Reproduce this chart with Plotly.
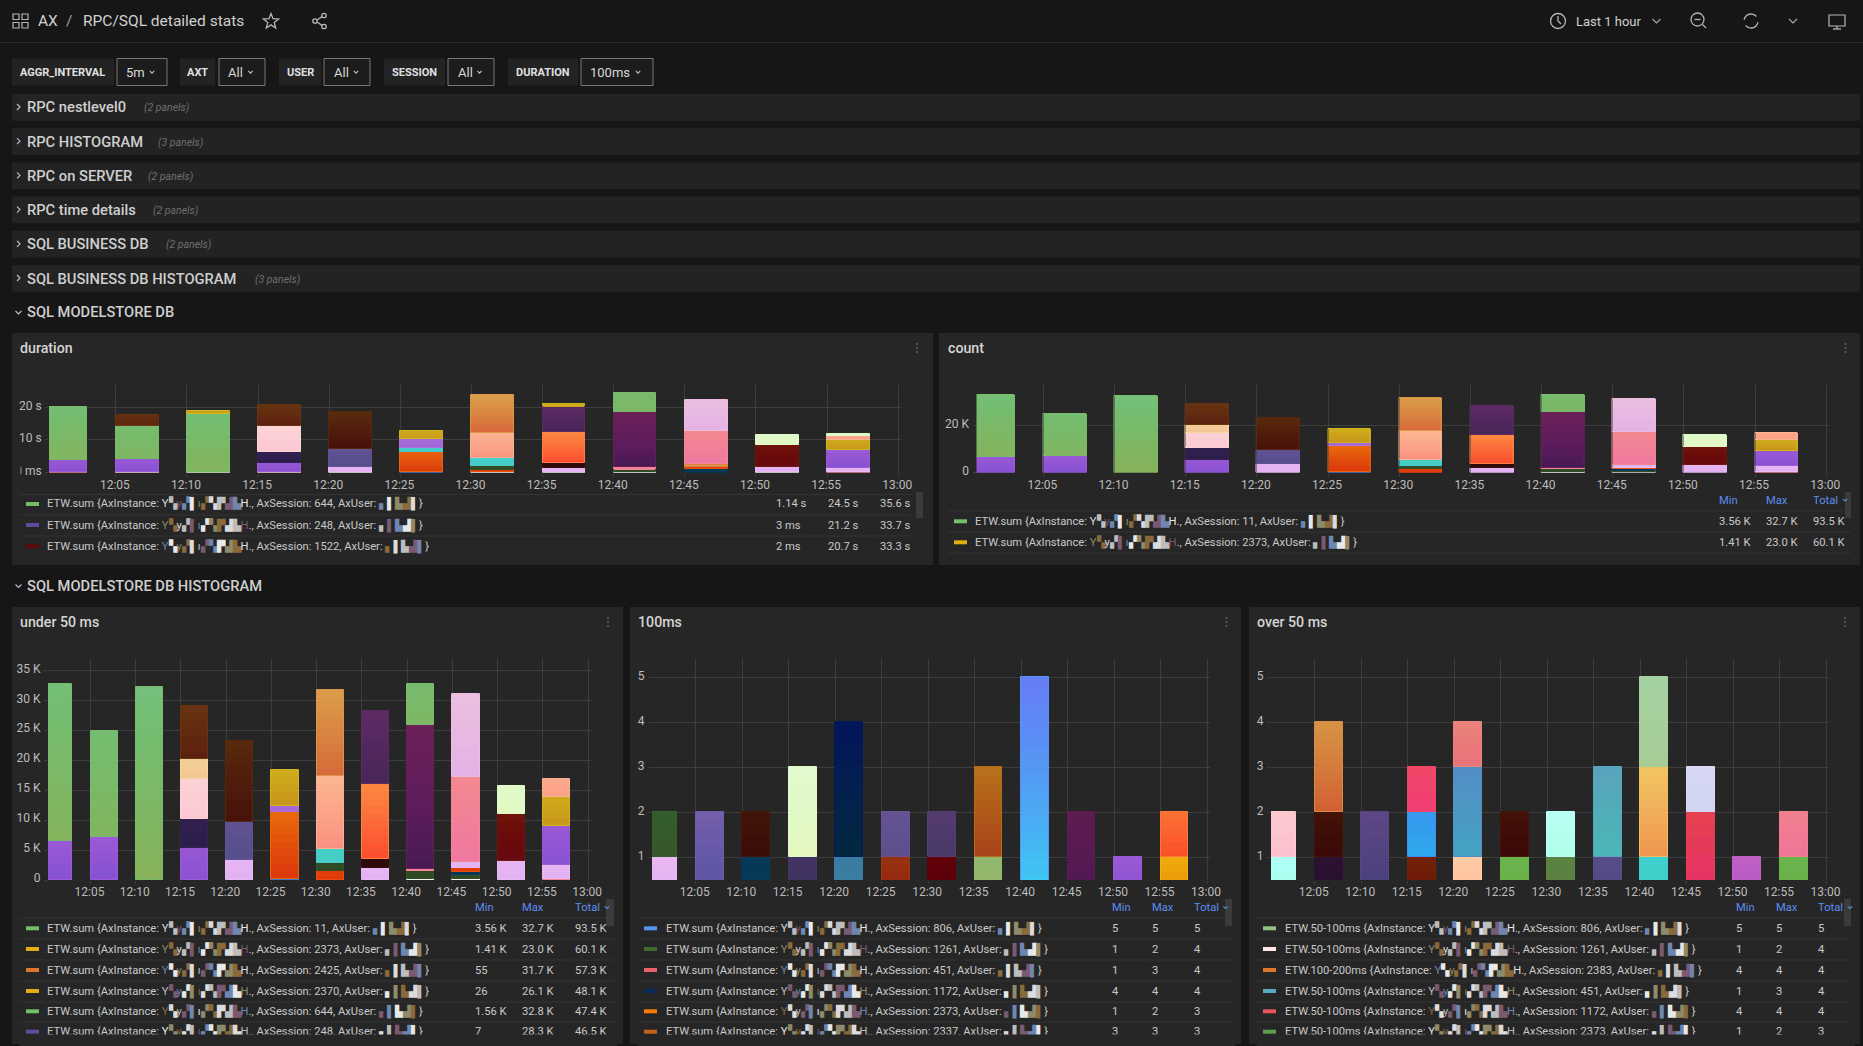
import colorsys
import math

import plotly.graph_objects as go

WIDTH = 1863
HEIGHT = 1046
FONT = "Roboto"
BG = "#161616"
PANEL = "#262626"
ROW = "#232323"
GRID = "#3d3d3d"
TEXT = "#c9c9c9"
BLUE_HEAD = "#5c8df0"

# series colours, middle of each gradient
GREEN = "#7ab968"
PURPLE = "#9055d4"
PURPLE2 = "#a468d8"
BROWN = "#622a10"
DK_BROWN = "#501d0c"
PEACH = "#f4cb96"
ROSE = "#fccdd4"
NAVY_P = "#2e1f4d"
LILAC = "#e4b3f2"
SLATE = "#5a5090"
BLUE = "#3f7fc8"
RUST = "#e24f0c"
GOLD = "#cba01b"
SALMON = "#fba489"
ORANGE = "#d98442"
TEAL = "#45cec7"
DK_GREEN = "#2f4a25"
REDOR = "#e23b0a"
MAROON = "#2f0a0c"
BRIGHT = "#fc6b38"
PLUM = "#52285f"
MAGENTA = "#5f1d5c"
PINK = "#f28098"
PALE_LILAC = "#e8b8e2"
DK_RED = "#6c0a0a"
PALE_GREEN = "#e1f9c6"
WHITE = "#f2eef4"
DK_TEAL = "#063a55"
SKY = "#3a7f9f"

buckets = [f"2024-05-14 12:{m:02d}" for m in (0, 5, 10, 15, 20, 25, 30, 35, 40, 45, 50, 55)]
tick_times = buckets[1:] + ["2024-05-14 13:00"]
tick_labels = ["12:05", "12:10", "12:15", "12:20", "12:25", "12:30", "12:35", "12:40", "12:45", "12:50", "12:55", "13:00"]

# each inner list is one 5 minute stack, bottom to top
duration_values = [
    [0.3, 3.5, 16.2],
    [0.3, 4.0, 10.0, 3.5],
    [0.3, 17.7, 0.8],
    [0.3, 2.5, 3.5, 8.0, 6.3],
    [0.3, 1.3, 5.6, 11.3],
    [0.3, 5.9, 1.3, 2.7, 2.5],
    [0.3, 0.6, 0.95, 2.55, 7.7, 11.6],
    [0.3, 1.0, 1.5, 9.6, 8.0, 0.6],
    [0.3, 0.7, 0.6, 17.0, 5.8],
    [0.3, 0.7, 0.95, 0.6, 10.3, 9.4],
    [0.3, 1.3, 7.0, 2.9],
    [0.3, 1.0, 5.6, 2.95, 1.5, 0.4],
]
duration_colors = [
    [PINK, PURPLE, GREEN],
    [ROSE, PURPLE, GREEN, BROWN],
    [PALE_GREEN, GREEN, GOLD],
    [ROSE, PURPLE, NAVY_P, ROSE, BROWN],
    [WHITE, LILAC, SLATE, DK_BROWN],
    [BLUE, RUST, TEAL, PURPLE2, GOLD],
    [WHITE, REDOR, DK_GREEN, TEAL, SALMON, ORANGE],
    [WHITE, LILAC, MAROON, BRIGHT, PLUM, GOLD],
    [WHITE, DK_GREEN, PINK, MAGENTA, GREEN],
    [DK_TEAL, DK_TEAL, REDOR, ORANGE, PINK, PALE_LILAC],
    [WHITE, LILAC, DK_RED, PALE_GREEN],
    [PINK, LILAC, PURPLE, GOLD, SALMON, PALE_GREEN],
]

under_50_values = [
    [6500, 26200],
    [7100, 17700],
    [32300],
    [5300, 4900, 6700, 3300, 8900],
    [3400, 6300, 13500],
    [200, 11100, 1000, 6100],
    [1500, 1300, 2400, 12200, 14300],
    [2000, 1500, 12600, 12200],
    [200, 1300, 400, 23900, 7000],
    [200, 800, 300, 700, 1000, 14200, 13800],
    [3200, 7800, 4700],
    [200, 2350, 6550, 4700, 3000],
]
under_50_colors = [
    [PURPLE, GREEN],
    [PURPLE, GREEN],
    [GREEN],
    [PURPLE, NAVY_P, ROSE, PEACH, BROWN],
    [LILAC, SLATE, DK_BROWN],
    [BLUE, RUST, PURPLE2, GOLD],
    [REDOR, DK_GREEN, TEAL, SALMON, ORANGE],
    [LILAC, MAROON, BRIGHT, PLUM],
    [WHITE, DK_GREEN, PINK, MAGENTA, GREEN],
    [WHITE, DK_GREEN, DK_TEAL, REDOR, LILAC, PINK, PALE_LILAC],
    [LILAC, DK_RED, PALE_GREEN],
    [PINK, LILAC, PURPLE, GOLD, SALMON],
]

count_values = under_50_values
count_colors = under_50_colors

ms_100_values = [
    [1, 1], [2], [1, 1], [1, 2], [1, 3], [1, 1],
    [1, 1], [1, 2], [5], [2], [1], [1, 1],
]
ms_100_colors = [
    [LILAC, "#365a2a"], ["#6458a8"], [DK_TEAL, "#3f1009"], ["#3f3260", PALE_GREEN],
    [SKY, "#03204e"], ["#94280f", "#60518f"], ["#5c000c", "#4e3a6c"], ["#94b76c", "#b0591a"],
    ["#50a0f4"], ["#561a52"], [PURPLE], ["#ea9a0c", "#fb6030"],
]

over_50_values = [
    [1, 1], [1, 1, 2], [2], [1, 1, 1], [1, 2, 1], [1, 1],
    [1, 1], [1, 2], [1, 2, 2], [2, 1], [1], [1, 1],
]
over_50_colors = [
    ["#a9fff0", "#fcc4cf"], ["#28102e", "#3f0d08", "#d47a3c"], ["#51437f"],
    ["#6e1a08", "#33a0ee", "#f0426e"], ["#fcc3a0", "#4b98c4", "#e97878"], ["#6cb04a", "#3f0d08"],
    ["#5c8040", "#b4ffee"], ["#524a85", "#52adba"], ["#3dcfc6", "#f0ae58", "#a6cf9c"],
    ["#e6385e", "#d4d6f2"], ["#b85cc4"], ["#6cb04a", "#f07a94"],
]

# name, session, min, max, total of the visible legend rows
duration_legend = [
    ("ETW.sum", "644", "1.14 s", "24.5 s", "35.6 s"),
    ("ETW.sum", "248", "3 ms", "21.2 s", "33.7 s"),
    ("ETW.sum", "1522", "2 ms", "20.7 s", "33.3 s"),
]
duration_swatches = ["#73bf69", "#5f4b9b", "#5c0a0a"]
count_legend = [
    ("ETW.sum", "11", "3.56 K", "32.7 K", "93.5 K"),
    ("ETW.sum", "2373", "1.41 K", "23.0 K", "60.1 K"),
]
count_swatches = ["#73bf69", "#e0ae12"]
under_50_legend = [
    ("ETW.sum", "11", "3.56 K", "32.7 K", "93.5 K"),
    ("ETW.sum", "2373", "1.41 K", "23.0 K", "60.1 K"),
    ("ETW.sum", "2425", "55", "31.7 K", "57.3 K"),
    ("ETW.sum", "2370", "26", "26.1 K", "48.1 K"),
    ("ETW.sum", "644", "1.56 K", "32.8 K", "47.4 K"),
    ("ETW.sum", "248", "7", "28.3 K", "46.5 K"),
]
under_50_swatches = ["#73bf69", "#e0ae12", "#e0752d", "#e0ae12", "#73bf69", "#5f4b9b"]
ms_100_legend = [
    ("ETW.sum", "806", "5", "5", "5"),
    ("ETW.sum", "1261", "1", "2", "4"),
    ("ETW.sum", "451", "1", "3", "4"),
    ("ETW.sum", "1172", "4", "4", "4"),
    ("ETW.sum", "2373", "1", "2", "3"),
    ("ETW.sum", "2337", "3", "3", "3"),
]
ms_100_swatches = ["#5794f2", "#3f6b34", "#e8636c", "#0a2a5a", "#ff780a", "#c4601d"]
over_50_legend = [
    ("ETW.50-100ms", "806", "5", "5", "5"),
    ("ETW.50-100ms", "1261", "1", "2", "4"),
    ("ETW.100-200ms", "2383", "4", "4", "4"),
    ("ETW.50-100ms", "451", "1", "3", "4"),
    ("ETW.50-100ms", "1172", "4", "4", "4"),
    ("ETW.50-100ms", "2373", "1", "2", "3"),
]
over_50_swatches = ["#96c183", "#ffe5e5", "#e0752d", "#5aa9c2", "#e8535e", "#5c9e4e"]

row_titles = ["RPC nestlevel0", "RPC HISTOGRAM", "RPC on SERVER", "RPC time details", "SQL BUSINESS DB", "SQL BUSINESS DB HISTOGRAM"]
row_panels = ["(2 panels)", "(3 panels)", "(2 panels)", "(2 panels)", "(2 panels)", "(3 panels)"]
row_hint_x = [143, 157, 147, 152, 165, 254]

NOISE_A = "Y▚y▞▌ı▞▚▛▟▙H"
NOISE_B = "▖▌▙▟▌"
NOISE_COLORS = ["#dcdcdc", "#8f8a6a", "#6f86b0", "#bdbdbd", "#8a6a3a", "#e8e8e8", "#7a5a70"]

shapes = []
annotations = []
fig = go.Figure()


def px(x):
    return x / WIDTH


def py(y):
    return 1 - y / HEIGHT


def rect(x0, y0, x1, y1, fill, line=None):
    shapes.append(dict(
        type="rect", xref="paper", yref="paper", layer="below",
        x0=px(x0), x1=px(x1), y0=py(y0), y1=py(y1), fillcolor=fill,
        line=dict(color=line or "rgba(0,0,0,0)", width=1 if line else 0),
    ))


def poly(points, color="#b5b5b5", width=1.3, closed=False):
    path = "M " + " L ".join(f"{px(x):.5f},{py(y):.5f}" for x, y in points)
    shapes.append(dict(
        type="path", xref="paper", yref="paper", path=path + (" Z" if closed else ""),
        line=dict(color=color, width=width),
    ))


def circle(cx, cy, r, color="#b5b5b5", width=1.3):
    shapes.append(dict(
        type="circle", xref="paper", yref="paper",
        x0=px(cx - r), x1=px(cx + r), y0=py(cy - r), y1=py(cy + r),
        line=dict(color=color, width=width),
    ))


def arc(cx, cy, r, a0, a1):
    return [(cx + r * math.cos(math.radians(a0 + (a1 - a0) * k / 12)),
             cy + r * math.sin(math.radians(a0 + (a1 - a0) * k / 12))) for k in range(13)]


def chevron_down(x, y, s=3, color="#c0c0c0"):
    poly([(x - s, y - s / 2), (x, y + s / 2), (x + s, y - s / 2)], color, 1.1)


def chevron_right(x, y, s=3, color="#c0c0c0"):
    poly([(x - s / 2, y - s), (x + s / 2, y), (x - s / 2, y + s)], color, 1.1)


def label(x, y, text, size=12, color=TEXT, anchor="left", family=FONT):
    annotations.append(dict(
        xref="paper", yref="paper", x=px(x), y=py(y), text=text, showarrow=False,
        xanchor=anchor, yanchor="middle", borderpad=0,
        font=dict(family=family, size=size, color=color),
    ))


def medium(text):
    return f"<span style='font-weight:500'>{text}</span>"


def noise(chars, start):
    # stands in for the pixelated names of the reference
    parts = [f"<span style='color:{NOISE_COLORS[(start + 3 * k) % len(NOISE_COLORS)]}'>{c}</span>"
             for k, c in enumerate(chars)]
    return "".join(parts)


def shade(color, t):
    r, g, b = (int(color[i:i + 2], 16) / 255 for i in (1, 3, 5))
    h, l, s = colorsys.rgb_to_hls(r, g, b)
    h = (h + t * 0.06) % 1
    l = min(1, max(0, l + t * 0.05))
    r, g, b = colorsys.hls_to_rgb(h, l, s)
    return f"rgb({r * 255:.0f},{g * 255:.0f},{b * 255:.0f})"


def add_stacks(values, colors, axis_no, span):
    # plotly bars have no gradient fill, so each segment is cut in thin flat steps
    xs, hs, bases, fills = [], [], [], []
    out_x, out_h, out_b, out_c = [], [], [], []
    for time, stack, stack_colors in zip(buckets, values, colors):
        base = 0
        for value, color in zip(stack, stack_colors):
            frac = value / span
            steps = max(1, math.ceil(frac * 28))
            for k in range(steps):
                xs.append(time)
                hs.append(value / steps)
                bases.append(base + value * k / steps)
                fills.append(shade(color, (2 * (k + 0.5) / steps - 1) * frac))
            out_x.append(time)
            out_h.append(value)
            out_b.append(base)
            out_c.append(shade(color, 0.25))
            base += value
    suffix = "" if axis_no == 1 else str(axis_no)
    fig.add_trace(go.Bar(
        x=xs, y=hs, base=bases, offset=0, width=180000, xaxis=f"x{suffix}", yaxis=f"y{suffix}",
        marker=dict(color=fills, line=dict(width=0)), hoverinfo="skip", showlegend=False,
    ))
    fig.add_trace(go.Bar(
        x=out_x, y=out_h, base=out_b, offset=0, width=180000, xaxis=f"x{suffix}", yaxis=f"y{suffix}",
        marker=dict(color="rgba(0,0,0,0)", line=dict(color=out_c, width=1)), showlegend=False,
    ))


def add_axes(axis_no, x0, x1, top, bottom, y_range, y_ticks, y_labels):
    suffix = "" if axis_no == 1 else str(axis_no)
    font = dict(family=FONT, size=12, color="#bcbcbc")
    fig.update_layout({
        f"xaxis{suffix}": dict(
            type="date", domain=[px(x0), px(x1)], anchor=f"y{suffix}", automargin=False,
            range=["2024-05-14 12:00:18", "2024-05-14 13:00:16"],
            tickvals=tick_times, ticktext=tick_labels, tickfont=font, showgrid=True,
            gridcolor=GRID, gridwidth=1, zeroline=False, showline=False,
            ticks="outside", ticklen=3, tickcolor=GRID, ticklabelstandoff=-2, ticklabelshift=-1,
        ),
        f"yaxis{suffix}": dict(
            domain=[py(bottom), py(top)], anchor=f"x{suffix}", range=y_range, automargin=False,
            tickvals=y_ticks, ticktext=y_labels, tickfont=font, showgrid=True,
            gridcolor=GRID, gridwidth=1, zeroline=False, showline=False,
            ticks="outside", ticklen=3, tickcolor=GRID, ticklabelstandoff=1, ticklabelshift=-2,
        ),
    })


def panel_frame(x0, y0, x1, y1, title, title_x, dots_x):
    rect(x0, y0, x1, y1, PANEL)
    label(title_x, y0 + 15, medium(title), 14.2, "#d5d5d5")
    for k in (-4, 0, 4):
        rect(dots_x - 0.8, y0 + 15 + k - 0.8, dots_x + 0.8, y0 + 15 + k + 0.8, "#6d6d6d")


def legend_rows(rows, swatches, rows_y, sep_y, sw_x, text_x, cols, sep_x0, sep_x1):
    for y in sep_y:
        rect(sep_x0, y, sep_x1, y + 1, "#333333")
    for n, ((name, session, low, high, total), color, y) in enumerate(zip(rows, swatches, rows_y)):
        rect(sw_x, y - 2, sw_x + 13, y + 2, color)
        text = f"{name} {{AxInstance: {noise(NOISE_A, n)}., AxSession: {session}, AxUser: {noise(NOISE_B, n + 2)}}}"
        label(text_x, y, text, 11.2)
        for col, value in zip(cols, (low, high, total)):
            label(col, y, value, 11.2)


def legend_head(cols, y):
    for col, text in zip(cols, ("Min", "Max", "Total")):
        label(col, y, text, 11.2, BLUE_HEAD)
    chevron_down(cols[2] + 33, y, 2.2, BLUE_HEAD)


def cover(x0, x1, y0, y1):
    # hides text cut by a box edge in the reference
    annotations.append(dict(
        xref="paper", yref="paper", x=px(x0), y=py(y0), xanchor="left", yanchor="top",
        width=x1 - x0, height=y1 - y0, text="\u00a0", showarrow=False, bgcolor=PANEL, borderpad=0,
        font=dict(size=6),
    ))


# page header
rect(0, 42, WIDTH, 43, "#2a2a2a")
for gx in (13, 22):
    for gy in (14, 22.5):
        shapes.append(dict(type="rect", xref="paper", yref="paper", x0=px(gx), x1=px(gx + 6), y0=py(gy), y1=py(gy + 5.5),
                           line=dict(color="#b5b5b5", width=1.2)))
label(37, 21, "AX", 15.5, "#d0d0d0")
label(65, 21, "/", 15.5, "#a0a0a0")
label(82, 21, "RPC/SQL detailed stats", 15.5, "#d0d0d0")
poly([(271 + (8 if k % 2 == 0 else 3.4) * math.sin(k * math.pi / 5),
       21.5 - (8 if k % 2 == 0 else 3.4) * math.cos(k * math.pi / 5)) for k in range(10)], closed=True)
circle(324, 15.5, 2.2)
circle(315, 21, 2.2)
circle(324, 26.5, 2.2)
poly([(322, 16.6), (317, 20)])
poly([(317, 22), (322, 25.4)])
circle(1558, 21, 7.5)
poly([(1558, 16), (1558, 21), (1561, 24)])
label(1575, 21, "Last 1 hour", 13, "#d0d0d0")
chevron_down(1656.5, 21, 4, "#a8a8a8")
circle(1697.5, 19.5, 6.5)
poly([(1694.5, 19.5), (1700.5, 19.5)])
poly([(1702.5, 24.5), (1706, 28)])
poly(arc(1751, 21, 7, 190, 320))
poly(arc(1751, 21, 7, 10, 140))
chevron_down(1793, 21, 4, "#a8a8a8")
shapes.append(dict(type="rect", xref="paper", yref="paper", x0=px(1829), x1=px(1845), y0=py(15), y1=py(26),
                   line=dict(color="#b5b5b5", width=1.2)))
poly([(1837, 26), (1837, 29)])
poly([(1833, 29), (1841, 29)])

# variable bar
toolbar = [
    ("AGGR_INTERVAL", 12, 114, "5m", 117, 167, 125, 152),
    ("AXT", 180, 215, "All", 219, 265, 227, 250.5),
    ("USER", 279, 321, "All", 324, 370, 333, 356),
    ("SESSION", 384, 445, "All", 448, 494, 457, 479.5),
    ("DURATION", 508, 578, "100ms", 581, 653, 589, 638),
]
for name, x0, x1, value, bx0, bx1, tx, cx in toolbar:
    rect(x0, 58.5, x1, 85.5, "#232323")
    label((x0 + x1) / 2, 72, f"<b>{name}</b>", 11, "#e0e0e0", "center")
    rect(bx0, 58.5, bx1, 85.5, "#1c1c1c", "#777777")
    label(tx, 72, value, 13, "#d8d8d8")
    chevron_down(cx, 72, 2.2)

# collapsed rows
for k, (title, hint, hint_x) in enumerate(zip(row_titles, row_panels, row_hint_x)):
    top = 94 + 34.2 * k
    rect(12, top, 1860, top + 26.7, ROW)
    chevron_right(18.5, top + 13)
    label(26, top + 13.5, medium(title), 14.7, "#cfcfcf")
    label(hint_x, top + 14, f"<i>{hint}</i>", 10.5, "#6f6f6f")
chevron_down(18.5, 312.5)
label(26, 312, medium("SQL MODELSTORE DB"), 14.7, "#cfcfcf")
chevron_down(18.5, 586)
label(26, 585.5, medium("SQL MODELSTORE DB HISTOGRAM"), 14.7, "#cfcfcf")

# panels
panel_frame(12, 333, 933, 565, "duration", 19, 917)
panel_frame(939, 333, 1860, 565, "count", 947, 1845.5)
panel_frame(12, 607, 623, 1044, "under 50 ms", 19, 608)
panel_frame(630, 607, 1241, 1044, "100ms", 637, 1226.5)
panel_frame(1249, 607, 1860, 1044, "over 50 ms", 1256, 1845)

add_stacks(duration_values, duration_colors, 1, 26.9)
add_axes(1, 49, 902, 385, 472.5, [0, 26.9], [0, 10, 20], ["0 ms", "10 s", "20 s"])
cover(12, 18.5, 463, 478)
add_stacks(count_values, count_colors, 2, 37100)
add_axes(2, 976.5, 1830, 385, 472.5, [0, 37100], [0, 20000], ["0", "20 K"])
add_stacks(under_50_values, under_50_colors, 3, 36900)
add_axes(3, 48, 590.5, 659, 880, [0, 36900], [0, 5000, 10000, 15000, 20000, 25000, 30000, 35000],
         ["0", "5 K", "10 K", "15 K", "20 K", "25 K", "30 K", "35 K"])
add_stacks(ms_100_values, ms_100_colors, 4, 5.41)
add_axes(4, 652, 1209.5, 659, 880, [0.5, 5.41], [1, 2, 3, 4, 5], ["1", "2", "3", "4", "5"])
add_stacks(over_50_values, over_50_colors, 5, 5.41)
add_axes(5, 1271, 1829, 659, 880, [0.5, 5.41], [1, 2, 3, 4, 5], ["1", "2", "3", "4", "5"])

# legends
legend_rows(duration_legend, duration_swatches, [504, 525, 546.3], [494, 514.5, 535.5], 26, 46,
            [775, 827, 879], 19, 911)
rect(916, 492, 923, 518, "#3b3b3b")

legend_head([1718, 1765, 1812], 500)
legend_rows(count_legend, count_swatches, [521.3, 542.3], [510.5, 531.5, 552.5], 954, 974,
            [1718, 1765, 1812], 948, 1851)
rect(1845, 492, 1851, 518, "#3b3b3b")

bottom_rows = [928.3, 949, 970, 991, 1011.3, 1031.7]
bottom_seps = [917.5, 938.5, 959.5, 980.5, 1001.5, 1021.5]

legend_head([474, 521, 574], 907.5)
legend_rows(under_50_legend, under_50_swatches, bottom_rows, bottom_seps, 26, 46, [474, 521, 574], 19, 614)
rect(606, 899, 614, 926, "#3b3b3b")
cover(19, 616, 1033.5, 1044)

legend_head([1110.5, 1150.5, 1192.5], 907.5)
legend_rows(ms_100_legend, ms_100_swatches, bottom_rows, bottom_seps, 644, 664.5, [1110.5, 1150.5, 1192.5], 637, 1232)
rect(1225, 899, 1232, 926, "#3b3b3b")
cover(637, 1234, 1033.5, 1044)

legend_head([1735, 1775, 1817], 907.5)
legend_rows(over_50_legend, over_50_swatches, bottom_rows, bottom_seps, 1263, 1283.5, [1735, 1775, 1817], 1256, 1851)
rect(1844, 899, 1851, 926, "#3b3b3b")
cover(1256, 1853, 1033.5, 1044)

fig.update_layout(
    width=WIDTH, height=HEIGHT, autosize=False,
    margin=dict(l=0, r=0, t=0, b=0, pad=0, autoexpand=False),
    paper_bgcolor=BG, plot_bgcolor="rgba(0,0,0,0)",
    barmode="overlay", showlegend=False, bargap=0,
    font=dict(family=FONT, color=TEXT),
    shapes=shapes, annotations=annotations,
)

fig.write_html(
    "out.html",
    config={"displayModeBar": False},
    post_script="document.body.style.margin='0';document.body.style.overflow='hidden';",
)
